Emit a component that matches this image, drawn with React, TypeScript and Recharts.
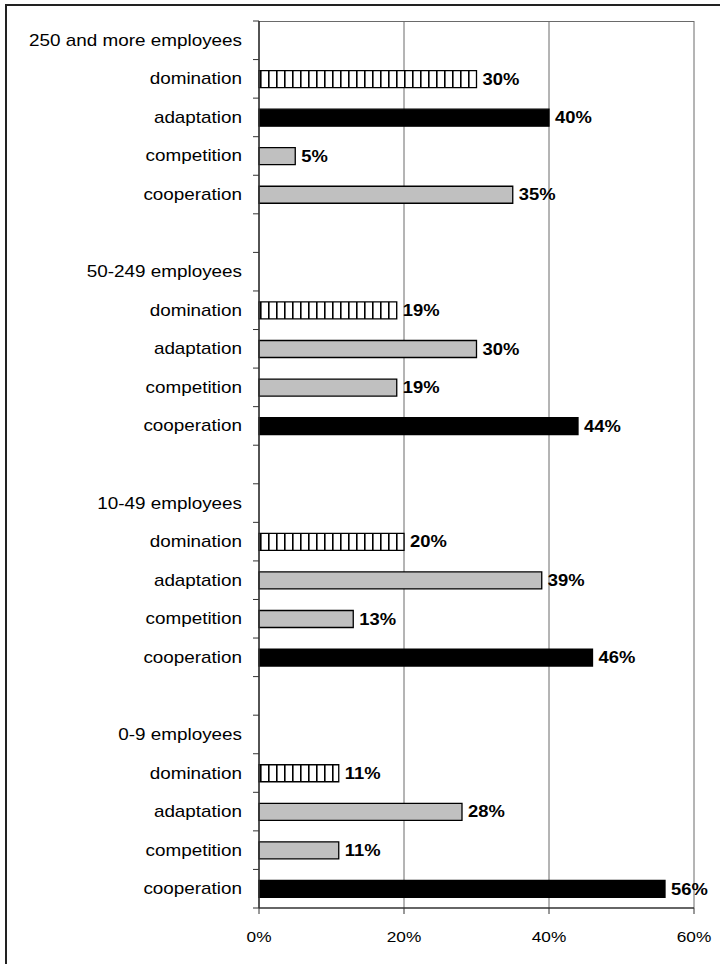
import { BarChart, Bar, XAxis, YAxis, CartesianGrid, Cell, LabelList } from "recharts";

const GROUPS = ["250 and more employees", "50-249 employees", "10-49 employees", "0-9 employees"];
const STRATEGIES = ["domination", "adaptation", "competition", "cooperation"];
const SHARE_250_PLUS = [30, 40, 5, 35];
const SHARE_50_249 = [19, 30, 19, 44];
const SHARE_10_49 = [20, 39, 13, 46];
const SHARE_0_9 = [11, 28, 11, 56];
const X_TICKS = [0, 20, 40, 60];

const GROUP_VALUES = [SHARE_250_PLUS, SHARE_50_249, SHARE_10_49, SHARE_0_9];

type Row = { id: string; label: string; value: number | null; fill: string };

const rows: Row[] = [];
GROUPS.forEach((g, gi) => {
  const vals = GROUP_VALUES[gi];
  const max = Math.max(...vals);
  rows.push({ id: `h${gi}`, label: g, value: null, fill: "none" });
  STRATEGIES.forEach((s, si) => {
    const v = vals[si];
    let fill = "#c0c0c0";
    if (s === "domination") fill = "url(#vstripe)";
    else if (v === max) fill = "#000000";
    rows.push({ id: `r${gi}-${si}`, label: s, value: v, fill });
  });
  if (gi < GROUPS.length - 1) rows.push({ id: `b${gi}`, label: "", value: null, fill: "none" });
});

const W = 720;
const H = 964;
const TOP = 21;
const AXIS_X = 259;
const X_AXIS_H = 56;
const BAND = (H - TOP - X_AXIS_H) / rows.length;
const FONT = "'Liberation Sans', Arial, sans-serif";

const YTick = (props: any) => {
  const { y, payload, index } = props;
  const row = rows.find((r) => r.id === payload.value);
  const isLast = index === rows.length - 1;
  return (
    <g>
      <line x1={AXIS_X - 6} x2={AXIS_X} y1={y - BAND / 2} y2={y - BAND / 2} stroke="#333" />
      {isLast && <line x1={AXIS_X - 6} x2={AXIS_X} y1={y + BAND / 2} y2={y + BAND / 2} stroke="#333" />}
      <g transform={`translate(${AXIS_X - 17},${y})`}>
        <text
          x={0}
          y={0}
          textAnchor="end"
          dominantBaseline="central"
          transform="scale(1.18,1)"
          fontSize={16}
          fontFamily={FONT}
          fill="#000"
        >
          {row ? row.label : ""}
        </text>
      </g>
    </g>
  );
};

const XTick = (props: any) => {
  const { x, payload } = props;
  return (
    <g transform={`translate(${x},${936})`}>
      <text
        x={0}
        y={0}
        textAnchor="middle"
        dominantBaseline="central"
        transform="scale(1.15,1)"
        fontSize={15}
        fontFamily={FONT}
        fill="#000"
      >
        {`${payload.value}%`}
      </text>
    </g>
  );
};

const ValueLabel = (props: any) => {
  const { x, y, width, height, value } = props;
  if (value === null || value === undefined) return null;
  return (
    <g transform={`translate(${x + width + 6},${y + height / 2})`}>
      <text
        x={0}
        y={0}
        dominantBaseline="central"
        transform="scale(1.15,1)"
        fontSize={16}
        fontWeight="bold"
        fontFamily={FONT}
        fill="#000"
      >
        {`${value}%`}
      </text>
    </g>
  );
};

export default function App() {
  return (
    <div
      style={{
        position: "absolute",
        left: 0,
        top: 0,
        width: W,
        height: H,
        overflow: "hidden",
        background: "#fff",
        fontFamily: FONT,
      }}
    >
      <div
        style={{
          position: "absolute",
          left: 5,
          top: 4,
          width: 900,
          height: 1100,
          borderLeft: "2px solid #222",
          borderTop: "2px solid #222",
        }}
      />
      <div style={{ position: "absolute", left: 0, top: 0 }}>
        <BarChart
          width={W}
          height={H}
          data={rows}
          layout="vertical"
          margin={{ top: TOP, right: W - 694, left: 0, bottom: 0 }}
        >
          <defs>
            <pattern id="vstripe" x={260} y={0} width={8} height={8} patternUnits="userSpaceOnUse">
              <rect x={0} y={0} width={8} height={8} fill="#fff" />
              <rect x={0} y={0} width={1.6} height={8} fill="#000" />
            </pattern>
          </defs>
          <CartesianGrid
            horizontal={true}
            horizontalPoints={[TOP + 0.5]}
            stroke="#6a6a6a"
          />
          <XAxis
            type="number"
            domain={[0, 60]}
            ticks={X_TICKS}
            height={X_AXIS_H}
            axisLine={{ stroke: "#333", strokeWidth: 1.5 }}
            tickLine={{ stroke: "#333" }}
            tickSize={6}
            tick={<XTick />}
            interval={0}
          />
          <YAxis
            type="category"
            dataKey="id"
            width={AXIS_X}
            axisLine={{ stroke: "#333", strokeWidth: 1.5 }}
            tickLine={false}
            tick={<YTick />}
            interval={0}
          />
          <Bar dataKey="value" barSize={17} isAnimationActive={false}>
            {rows.map((r) => (
              <Cell key={r.id} fill={r.fill} stroke="#000" strokeWidth={1.3} />
            ))}
            <LabelList dataKey="value" content={<ValueLabel />} />
          </Bar>
        </BarChart>
      </div>
    </div>
  );
}
